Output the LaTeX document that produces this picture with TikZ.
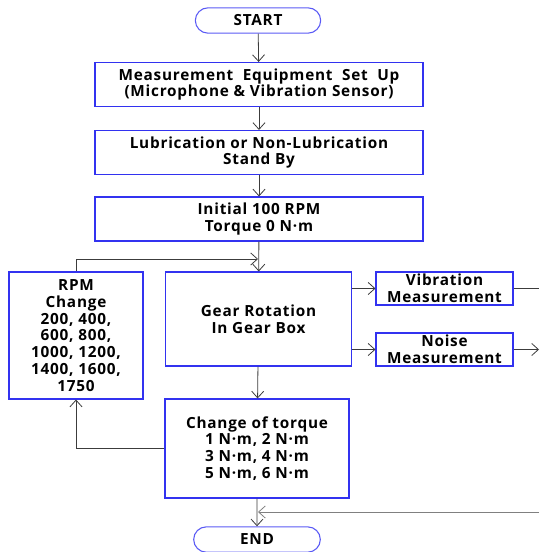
\documentclass[tikz,border=0pt]{standalone}
\usepackage{fontspec}
\setmainfont{Open Sans}[LetterSpace = 5]
\usetikzlibrary{arrows.meta, shapes.misc, positioning}
\definecolor{boxblue}{RGB}{50, 50, 240}
\definecolor{termblue}{RGB}{90, 90, 245}
\definecolor{linegray}{RGB}{60, 60, 60}
\tikzset{>={Straight Barb[length=5pt,width=9pt]}}
\tikzset{
  flowbox/.style = {draw = boxblue, line width = 0.8pt, align = center, inner sep = 0pt,
                    font = \bfseries\fontsize{11.5}{12.6}\selectfont},
  termbox/.style = {flowbox, draw = termblue, rounded rectangle, minimum width = 94pt, minimum height = 19pt},
  flowline/.style = {draw = linegray, line width = 0.6pt}
}

\begin{document}
\begin{tikzpicture}[x = 0.75pt, y = -0.75pt]
\useasboundingbox (0,0) rectangle (539,552);

\node[termbox] (start) at (258, 20.5) {START};
\node[flowbox, minimum width = 246pt, minimum height = 33pt] (setup) at (259, 84.5)
  {Measurement\ \ Equipment\ \ Set\ \ Up\\(Microphone \& Vibration Sensor)};
\node[flowbox, minimum width = 246pt, minimum height = 33pt] (lube) at (259, 152.5)
  {Lubrication or Non-Lubrication\\Stand By};
\node[flowbox, minimum width = 246pt, minimum height = 33pt] (init) at (259, 219)
  {Initial 100 RPM\\Torque 0 N·m};
\node[flowbox, minimum width = 140pt, minimum height = 70.5pt] (gear) at (258.5, 319)
  {Gear Rotation\\In Gear Box};
\node[flowbox, minimum width = 100.5pt, minimum height = 95.25pt] (rpm) at (76, 335.5)
  {RPM\\Change\\200, 400,\\600, 800,\\1000, 1200,\\1400, 1600,\\1750};
\node[flowbox, minimum width = 102.75pt, minimum height = 24.75pt] (vib) at (444.5, 288.5)
  {Vibration\\Measurement};
\node[flowbox, minimum width = 102.75pt, minimum height = 24.75pt] (noise) at (444.5, 349.5)
  {Noise\\Measurement};
\node[flowbox, minimum width = 138pt, minimum height = 74.25pt] (torque) at (257, 448.5)
  {Change of torque\\1 N·m, 2 N·m\\3 N·m, 4 N·m\\5 N·m, 6 N·m};
\node[termbox, minimum width = 95pt] (stop) at (257, 539.5) {END};

% free ends
\coordinate (join) at (258, 259);
\coordinate (vibout) at (539, 288.5);
\coordinate (noiseout) at (539, 349.5);
\coordinate (retin) at (539, 512);
\coordinate (retjoin) at (258, 512);

% main flow
\draw[flowline, ->] (start) -- (setup);
\draw[flowline, ->] (setup) -- (lube);
\draw[flowline, ->] (lube) -- (init);
\draw[flowline, ->] (init) -- (gear);
\draw[flowline, ->] (gear) -- (torque);
\draw[flowline, ->] (torque) -- (stop);

% loops
\draw[flowline, ->] (rpm.north) |- (join);
\draw[flowline, ->] (torque.west) -| (rpm.south);

% measurements
\draw[flowline, ->] (gear.east |- vib.west) -- (vib.west);
\draw[flowline, ->] (gear.east |- noise.west) -- (noise.west);
\draw[flowline] (vib.east) -- (vibout);
\draw[flowline, ->] (noise.east) -- (noiseout);
\draw[flowline, gray, ->] (retin) -- (retjoin);

\end{tikzpicture}
\end{document}
